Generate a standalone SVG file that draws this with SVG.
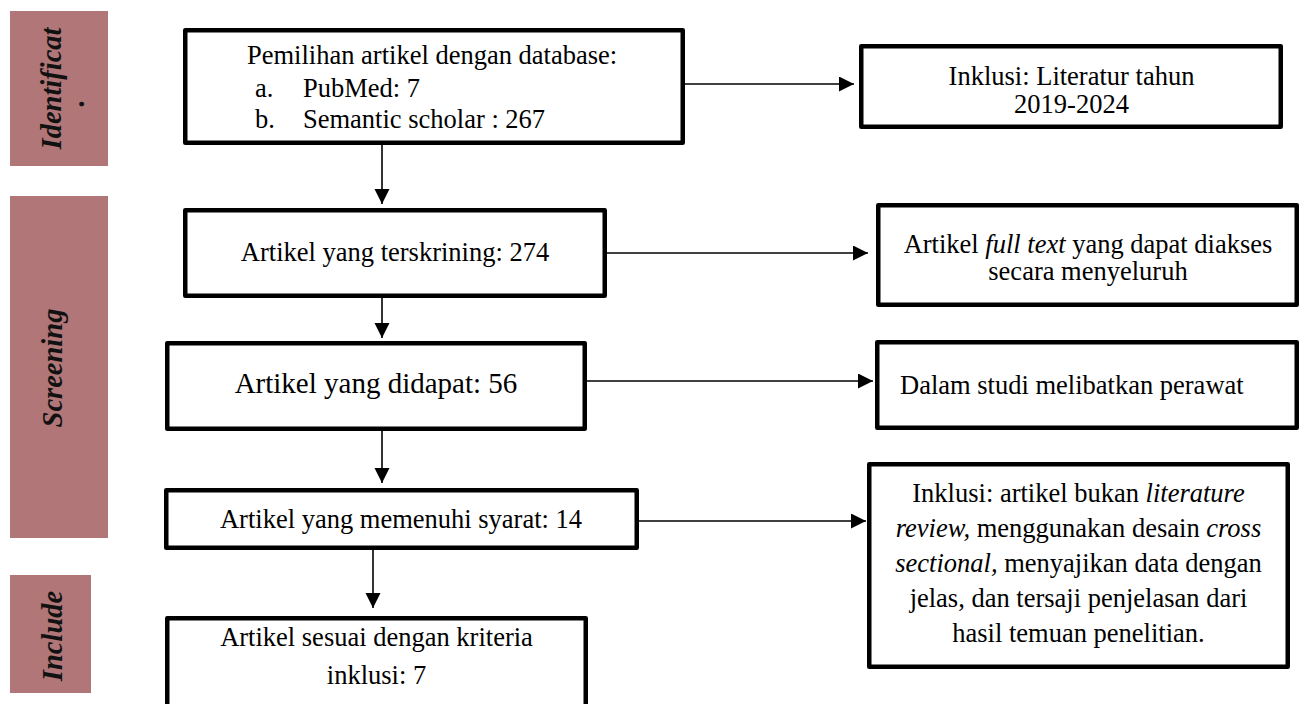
<svg xmlns="http://www.w3.org/2000/svg" width="1304" height="704" viewBox="0 0 1304 704">
<defs>
<style>
.band{fill:#b07678;}
.bt{font-family:"Liberation Serif","Times New Roman",serif;font-weight:bold;font-style:italic;font-size:28.5px;fill:#111;text-anchor:middle;}
.box{fill:#fff;stroke:#000;stroke-width:4.5;stroke-linejoin:round;}
.t{font-family:"Liberation Serif","Times New Roman",serif;font-size:26.5px;fill:#000;}
.c{text-anchor:middle;}
.conn{stroke:#000;stroke-width:1.6;fill:none;marker-end:url(#ah);}
</style>
<marker id="ah" markerUnits="userSpaceOnUse" markerWidth="16" markerHeight="16" refX="15" refY="7.5" orient="auto">
<path d="M0,0 L15,7.5 L0,15 z" fill="#000"/>
</marker>
</defs>
<rect width="1304" height="704" fill="#fff"/>

<g id="band-identification">
<rect class="band" x="10" y="11" width="98" height="155"/>
<text class="bt" transform="translate(61,88.5) rotate(-90)">Identificat</text>
<text class="bt" transform="translate(84,103) rotate(-90)">.</text>
</g>
<g id="band-screening">
<rect class="band" x="10" y="196" width="98" height="342"/>
<text class="bt" transform="translate(62,368) rotate(-90)">Screening</text>
</g>
<g id="band-include">
<rect class="band" x="10" y="575" width="81" height="118"/>
<text class="bt" transform="translate(62,636) rotate(-90)">Include</text>
</g>

<g id="connectors">
<line class="conn" x1="382" y1="145" x2="382" y2="204"/>
<line class="conn" x1="382" y1="298" x2="382" y2="338"/>
<line class="conn" x1="382" y1="431" x2="382" y2="483"/>
<line class="conn" x1="373" y1="550" x2="373" y2="608"/>
<line class="conn" x1="685" y1="84" x2="854" y2="84"/>
<line class="conn" x1="605" y1="253" x2="868" y2="253"/>
<line class="conn" x1="587" y1="381" x2="873" y2="381"/>
<line class="conn" x1="585" y1="521" x2="866" y2="521"/>
</g>

<g id="node-pemilihan">
<rect class="box" x="185.25" y="30.25" width="497.5" height="112.5"/>
<text class="t" x="247" y="64">Pemilihan artikel dengan database:</text>
<text class="t" x="255" y="97">a.</text>
<text class="t" x="303" y="97">PubMed: 7</text>
<text class="t" x="255" y="128">b.</text>
<text class="t" x="303" y="128">Semantic scholar : 267</text>
</g>

<g id="node-terskrining">
<rect class="box" x="185.25" y="210.25" width="419.5" height="85.5"/>
<text class="t c" x="395" y="261">Artikel yang terskrining: 274</text>
</g>

<g id="node-didapat">
<rect class="box" x="167.25" y="343.25" width="417.5" height="85.5"/>
<text class="t c" x="376" y="393" style="font-size:29px">Artikel yang didapat: 56</text>
</g>

<g id="node-memenuhi">
<rect class="box" x="166.25" y="490.25" width="470.5" height="57.5"/>
<text class="t c" x="401" y="528">Artikel yang memenuhi syarat: 14</text>
</g>

<g id="node-sesuai">
<rect class="box" x="167.25" y="618.25" width="418.5" height="100"/>
<text class="t c" x="376.5" y="646">Artikel sesuai dengan kriteria</text>
<text class="t c" x="376.5" y="684">inklusi: 7</text>
</g>

<g id="node-inklusi-tahun">
<rect class="box" x="861.25" y="46.25" width="419.5" height="80.5"/>
<text class="t c" x="1071.5" y="85">Inklusi: Literatur tahun</text>
<text class="t c" x="1071.5" y="113">2019-2024</text>
</g>

<g id="node-fulltext">
<rect class="box" x="878.25" y="205.25" width="418.5" height="99.5"/>
<text class="t c" x="1088" y="253">Artikel <tspan font-style="italic">full text</tspan> yang dapat diakses</text>
<text class="t c" x="1088" y="280">secara menyeluruh</text>
</g>

<g id="node-perawat">
<rect class="box" x="877.25" y="342.25" width="419.5" height="85.5"/>
<text class="t" x="900" y="394">Dalam studi melibatkan perawat</text>
</g>

<g id="node-inklusi-artikel">
<rect class="box" x="869.25" y="464.25" width="418.5" height="202.5"/>
<text class="t c" x="1078.5" y="502">Inklusi: artikel bukan <tspan font-style="italic">literature</tspan></text>
<text class="t c" x="1078.5" y="537"><tspan font-style="italic">review,</tspan> menggunakan desain <tspan font-style="italic">cross</tspan></text>
<text class="t c" x="1078.5" y="572"><tspan font-style="italic">sectional,</tspan> menyajikan data dengan</text>
<text class="t c" x="1078.5" y="607">jelas, dan tersaji penjelasan dari</text>
<text class="t c" x="1078.5" y="642">hasil temuan penelitian.</text>
</g>
</svg>
